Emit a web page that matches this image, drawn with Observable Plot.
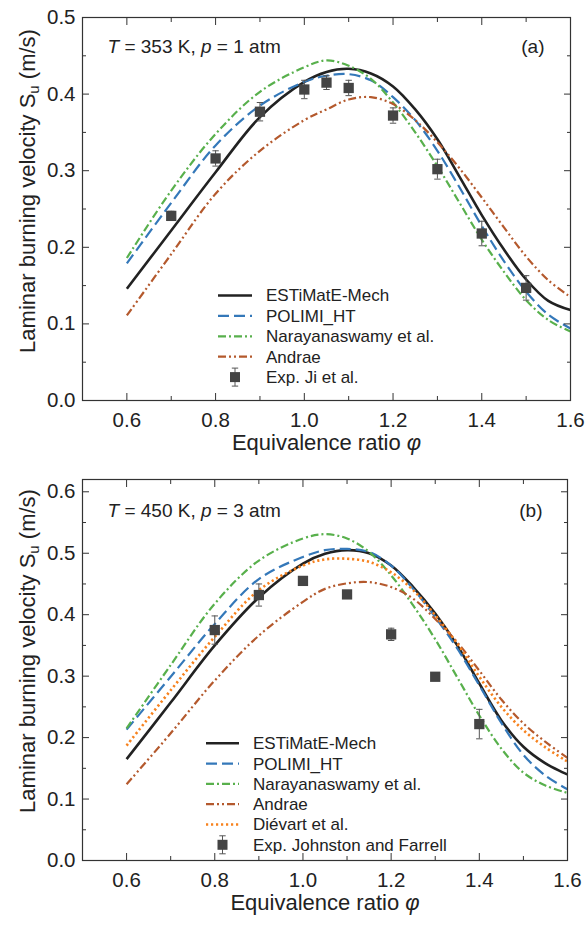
<!DOCTYPE html>
<html><head><meta charset="utf-8">
<script src="https://cdn.jsdelivr.net/npm/d3@7"></script>
<script src="https://cdn.jsdelivr.net/npm/@observablehq/plot@0.6"></script>
<style>
body{margin:0;background:#fff;font-family:"Liberation Sans",Arial,sans-serif;overflow:hidden;}
#fig{position:relative;width:587px;height:927px;background:#fff;}
#fig svg{position:absolute;left:0;}
</style></head><body><div id="fig"></div>
<script>
// ---------- data ----------
const phiGrid = [0.6,0.7,0.8,0.9,1.0,1.05,1.1,1.15,1.2,1.25,1.3,1.35,1.4,1.45,1.5,1.55,1.6];
const seriesNames = ["ESTiMatE-Mech","POLIMI_HT","Narayanaswamy et al.","Andrae","Diévart et al."];

// panel (a): T = 353 K, p = 1 atm
const aEstimate = [0.146,0.222,0.298,0.370,0.416,0.429,0.433,0.427,0.410,0.380,0.341,0.292,0.242,0.197,0.158,0.130,0.118];
const aPolimi   = [0.179,0.258,0.333,0.385,0.416,0.424,0.426,0.418,0.396,0.366,0.326,0.278,0.228,0.182,0.142,0.112,0.094];
const aNaray    = [0.186,0.274,0.348,0.403,0.435,0.444,0.437,0.420,0.389,0.350,0.306,0.258,0.210,0.168,0.131,0.105,0.090];
const aAndrae   = [0.111,0.191,0.270,0.326,0.366,0.380,0.393,0.396,0.387,0.366,0.337,0.303,0.265,0.226,0.188,0.157,0.135];
const expPhiA = [0.7,0.8,0.9,1.0,1.05,1.1,1.2,1.3,1.4,1.5];
const expSA   = [0.241,0.316,0.377,0.406,0.415,0.408,0.372,0.302,0.218,0.147];
const expErrA = [0.006,0.010,0.012,0.012,0.009,0.010,0.010,0.013,0.016,0.016];
const expNameA = "Exp. Ji et al.";

// panel (b): T = 450 K, p = 3 atm
const bEstimate = [0.165,0.257,0.350,0.428,0.483,0.499,0.505,0.500,0.480,0.445,0.402,0.350,0.288,0.228,0.185,0.158,0.140];
const bPolimi   = [0.213,0.299,0.385,0.458,0.494,0.505,0.507,0.502,0.480,0.442,0.396,0.345,0.285,0.224,0.172,0.138,0.116];
const bNaray    = [0.215,0.318,0.418,0.488,0.524,0.531,0.524,0.502,0.464,0.415,0.360,0.298,0.236,0.182,0.143,0.122,0.110];
const bAndrae   = [0.124,0.207,0.293,0.366,0.421,0.442,0.451,0.453,0.445,0.426,0.393,0.355,0.309,0.262,0.223,0.193,0.167];
const bDievart  = [0.187,0.277,0.364,0.440,0.480,0.490,0.491,0.486,0.469,0.440,0.399,0.353,0.299,0.250,0.212,0.184,0.161];
const expPhiB = [0.8,0.9,1.0,1.1,1.2,1.3,1.4];
const expSB   = [0.375,0.432,0.455,0.433,0.368,0.299,0.222];
const expErrB = [0.023,0.018,0.004,0.004,0.010,0.004,0.024];
const expNameB = "Exp. Johnston and Farrell";

// ticks
const xTicksMajor = [0.6,0.8,1.0,1.2,1.4,1.6];
const xTicksMinor = [0.7,0.9,1.1,1.3,1.5];
const yTicksMajorA = [0,0.1,0.2,0.3,0.4,0.5];
const yTicksMinorA = [0.05,0.15,0.25,0.35,0.45];
const yTicksMajorB = [0,0.1,0.2,0.3,0.4,0.5,0.6];
const yTicksMinorB = [0.05,0.15,0.25,0.35,0.45,0.55];

const xLabel = "Equivalence ratio φ";
const yLabel = "Laminar burning velocity Su (m/s)";
const annotA = "T = 353 K, p = 1 atm";
const annotB = "T = 450 K, p = 3 atm";

// ---------- styles ----------
const lineStyles = [
  {stroke:"#222222", strokeWidth:2.6, dash:null},
  {stroke:"#3478b9", strokeWidth:2.2, dash:"11,5"},
  {stroke:"#58b04c", strokeWidth:2.2, dash:"8,3,2,3"},
  {stroke:"#b4592d", strokeWidth:2.2, dash:"8,3,2,3,2,3"},
  {stroke:"#f7821e", strokeWidth:2.6, dash:"2.2,2.8"}
];
const FONT = "Liberation Sans, Arial, sans-serif";
const capSymbol = {draw(ctx){ ctx.moveTo(-3.2,0); ctx.lineTo(3.2,0); }};
const fmt = d3.format(".1f");
const NS = "http://www.w3.org/2000/svg";

function panel(o) {
  const marks = [];
  o.series.forEach((vals, i) => {
    const st = lineStyles[i];
    marks.push(Plot.line(phiGrid.map((p,j)=>({phi:p, S:vals[j]})), {
      x:"phi", y:"S", curve:"catmull-rom", stroke:st.stroke, strokeWidth:st.strokeWidth,
      strokeDasharray:st.dash, strokeLinecap:"butt"}));
  });
  const ed = o.expPhi.map((p,j)=>({phi:p, S:o.expS[j], e:o.expErr[j]}));
  marks.push(Plot.ruleX(ed, {x:"phi", y1:d=>d.S-d.e, y2:d=>d.S+d.e, stroke:"#555", strokeWidth:1}));
  marks.push(Plot.dot(ed, {x:"phi", y:d=>d.S+d.e, symbol:capSymbol, fill:"none", stroke:"#555", strokeWidth:1}));
  marks.push(Plot.dot(ed, {x:"phi", y:d=>d.S-d.e, symbol:capSymbol, fill:"none", stroke:"#555", strokeWidth:1}));
  marks.push(Plot.dot(ed, {x:"phi", y:"S", symbol:"square", r:5.8, fill:"#444", stroke:"none"}));
  const blank = () => "";
  marks.push(
    Plot.axisX(xTicksMajor, {anchor:"bottom", tickSize:-7, tickFormat:blank, label:null, stroke:"#333"}),
    Plot.axisX(xTicksMinor, {anchor:"bottom", tickSize:-4, tickFormat:blank, label:null, stroke:"#333"}),
    Plot.axisX(xTicksMajor, {anchor:"top", tickSize:-7, tickFormat:blank, label:null, stroke:"#333"}),
    Plot.axisX(xTicksMinor, {anchor:"top", tickSize:-4, tickFormat:blank, label:null, stroke:"#333"}),
    Plot.axisY(o.yMajor, {anchor:"left", tickSize:-7, tickFormat:blank, label:null, stroke:"#333"}),
    Plot.axisY(o.yMinor, {anchor:"left", tickSize:-4, tickFormat:blank, label:null, stroke:"#333"}),
    Plot.axisY(o.yMajor, {anchor:"right", tickSize:-7, tickFormat:blank, label:null, stroke:"#333"}),
    Plot.axisY(o.yMinor, {anchor:"right", tickSize:-4, tickFormat:blank, label:null, stroke:"#333"}),
    Plot.axisX(xTicksMajor, {anchor:"bottom", tickSize:0, tickPadding:12, tickFormat:fmt, label:null, fontSize:20.5, fill:"#222"}),
    Plot.axisY(o.yMajor, {anchor:"left", tickSize:0, tickPadding:7, tickFormat:fmt, label:null, fontSize:20.5, fill:"#222"}),
    Plot.frame({stroke:"#333", strokeWidth:1.2})
  );
  marks.push(
    Plot.text([xLabel], {frameAnchor:"bottom", lineAnchor:"middle", textAnchor:"middle", dy:42, fontSize:22, fill:"#222"}),
    Plot.text([yLabel], {frameAnchor:"left", lineAnchor:"middle", textAnchor:"middle", rotate:-90, dx:-55, dy:o.yLabelDy, fontSize:22, fill:"#222"}),
    Plot.text([o.annot], {frameAnchor:"top-left", lineAnchor:"middle", textAnchor:"start", dx:25, dy:o.annotDy, fontSize:19, fill:"#222"}),
    Plot.text([o.tag], {frameAnchor:"top-right", lineAnchor:"middle", textAnchor:"end", dx:o.tagDx, dy:o.annotDy, fontSize:19, fill:"#222"})
  );
  return Plot.plot({
    width:587, height:o.height,
    marginLeft:82, marginRight:o.marginRight, marginTop:o.marginTop, marginBottom:o.marginBottom,
    style:{fontFamily:FONT, background:"#fff", color:"#222"},
    x:{domain:[0.5,1.6], label:null},
    y:{domain:o.yDomain, label:null},
    marks
  });
}

function rich(svg, plain, parts) {
  svg.querySelectorAll("text").forEach(t => {
    if (t.textContent !== plain) return;
    t.textContent = "";
    for (const p of parts) {
      const ts = document.createElementNS(NS, "tspan");
      ts.textContent = p.t;
      if (p.italic) ts.setAttribute("font-style","italic");
      if (p.size) ts.setAttribute("font-size", p.size);
      if (p.dy) ts.setAttribute("dy", p.dy);
      t.appendChild(ts);
    }
  });
}

function enrich(svg) {
  rich(svg, xLabel, [{t:"Equivalence ratio "},{t:"φ", italic:true}]);
  rich(svg, annotA, [{t:"T", italic:true},{t:" = 353 K, "},{t:"p", italic:true},{t:" = 1 atm"}]);
  rich(svg, annotB, [{t:"T", italic:true},{t:" = 450 K, "},{t:"p", italic:true},{t:" = 3 atm"}]);
  rich(svg, yLabel, [{t:"Laminar burning velocity S"},{t:"u", size:15, dy:4},{t:" (m/s)", dy:-4}]);
}

function addLegend(svg, L) {
  const g = d3.select(svg).append("g").attr("font-family", FONT).attr("font-size", 17)
    .attr("fill","#222").attr("text-anchor","start");
  L.names.forEach((name, i) => {
    const y = L.y0 + i*L.dy, st = lineStyles[i];
    g.append("line").attr("x1",L.x0).attr("x2",L.x1).attr("y1",y).attr("y2",y)
      .attr("stroke",st.stroke).attr("stroke-width",st.strokeWidth)
      .attr("stroke-dasharray",st.dash).attr("stroke-linecap","butt");
    g.append("text").attr("x",L.xt).attr("y",y).attr("dy","0.35em").text(name);
  });
  const y = L.y0 + L.names.length*L.dy;
  g.append("line").attr("x1",L.xm).attr("x2",L.xm).attr("y1",y-9).attr("y2",y+9).attr("stroke","#555");
  g.append("line").attr("x1",L.xm-3.2).attr("x2",L.xm+3.2).attr("y1",y-9).attr("y2",y-9).attr("stroke","#555");
  g.append("line").attr("x1",L.xm-3.2).attr("x2",L.xm+3.2).attr("y1",y+9).attr("y2",y+9).attr("stroke","#555");
  g.append("rect").attr("x",L.xm-5).attr("y",y-5).attr("width",10).attr("height",10).attr("fill","#444");
  g.append("text").attr("x",L.xt).attr("y",y).attr("dy","0.35em").text(L.expName);
}

const fig = document.getElementById("fig");

const svgA = panel({
  height:460, marginTop:17, marginRight:17, marginBottom:60,
  yDomain:[0,0.5], yMajor:yTicksMajorA, yMinor:yTicksMinorA,
  series:[aEstimate,aPolimi,aNaray,aAndrae],
  expPhi:expPhiA, expS:expSA, expErr:expErrA,
  annot:annotA, tag:"(a)", annotDy:29, tagDx:-26, yLabelDy:-18
});
enrich(svgA);
addLegend(svgA, {x0:218, x1:252, xt:266, xm:235, y0:295.5, dy:20.4, names:seriesNames.slice(0,4), expName:expNameA});
svgA.style.top = "0px";
fig.appendChild(svgA);

const svgB = panel({
  height:467, marginTop:19, marginRight:20, marginBottom:67,
  yDomain:[0,0.62], yMajor:yTicksMajorB, yMinor:yTicksMinorB,
  series:[bEstimate,bPolimi,bNaray,bAndrae,bDievart],
  expPhi:expPhiB, expS:expSB, expErr:expErrB,
  annot:annotB, tag:"(b)", annotDy:31, tagDx:-25, yLabelDy:-19
});
enrich(svgB);
addLegend(svgB, {x0:206, x1:239, xt:253, xm:222.5, y0:283.3, dy:20.3, names:seriesNames, expName:expNameB});
svgB.style.top = "460px";
fig.appendChild(svgB);
</script></body></html>
